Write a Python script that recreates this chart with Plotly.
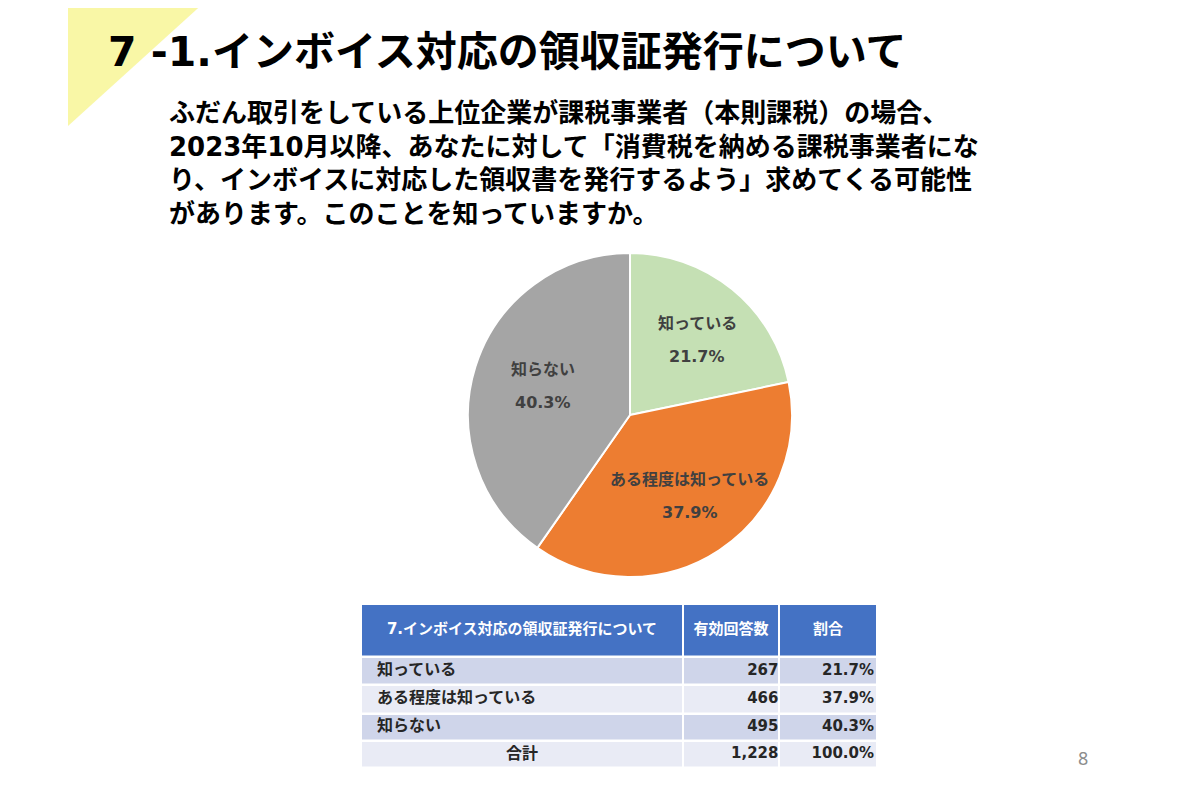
import math
import plotly.graph_objects as go

# ---- data ----
categories = ["知っている", "ある程度は知っている", "知らない"]
counts = [267, 466, 495]
pct_labels = ["21.7%", "37.9%", "40.3%"]
total_label = "合計"
total_count = "1,228"
total_pct = "100.0%"
table_header = ["7.インボイス対応の領収証発行について", "有効回答数", "割合"]
slice_colors = ["#C5E0B4", "#ED7D31", "#A5A5A5"]

title_text = "7 -1.インボイス対応の領収証発行について"
question_lines = [
    "ふだん取引をしている上位企業が課税事業者（本則課税）の場合、",
    "2023年10月以降、あなたに対して「消費税を納める課税事業者にな",
    "り、インボイスに対応した領収書を発行するよう」求めてくる可能性",
    "があります。このことを知っていますか。",
]
page_number = "8"

# ---- layout constants (pixels of the 1200x798 page) ----
OX, OY = 8, 8            # page body margin of the html page
FW, FH = 1200 - OX, 798 - OY
FONT = "DejaVu Sans, Noto Sans CJK JP"


def px(x):
    return (x - OX) / FW


def py(y):
    return 1 - (y - OY) / FH


fig = go.Figure()

# ---- pie ----
PCX, PCY, PR = 630, 415, 162
fig.add_trace(go.Pie(
    labels=categories,
    values=counts,
    sort=False,
    direction="clockwise",
    rotation=0,
    marker=dict(colors=slice_colors, line=dict(color="white", width=2)),
    textinfo="none",
    domain=dict(x=[px(PCX - PR), px(PCX + PR)], y=[py(PCY + PR), py(PCY - PR)]),
    showlegend=False,
    hoverinfo="skip",
))

# slice labels at the middle angle of each slice
total = sum(counts)
cum = 0
for cat, val, pl in zip(categories, counts, pct_labels):
    mid = (cum + val / 2) / total * 2 * math.pi
    cum += val
    lx = PCX + 0.60 * PR * math.sin(mid) + 6
    ly = PCY - 0.60 * PR * math.cos(mid)
    for txt, dy in ((cat, -16.5), (pl, 16.5)):
        fig.add_annotation(text=f"<b>{txt}</b>", x=px(lx), y=py(ly + dy), xref="paper", yref="paper",
                           xanchor="center", yanchor="middle", showarrow=False,
                           font=dict(family=FONT, size=16, color="#404040"))

# ---- table (cells drawn as a heatmap grid) ----
col_widths = [322, 96, 98]
row_heights = [53, 28, 28.5, 27.5, 27]
x_edges = [0]
for w in col_widths:
    x_edges.append(x_edges[-1] + w)
y_edges = [0]
for h in row_heights:
    y_edges.append(y_edges[-1] + h)
row_kind = [0, 1, 2, 1, 2]      # 0 header, 1 darker band, 2 lighter band
z = [[k] * len(col_widths) for k in row_kind]

TX0, TX1, TY0, TY1 = 361, 877, 604, 768
fig.add_trace(go.Heatmap(
    x=x_edges, y=y_edges, z=z,
    zmin=0, zmax=2,
    colorscale=[[0, "#4472C4"], [0.5, "#CFD5EA"], [1, "#E9EBF5"]],
    showscale=False, xgap=2, ygap=2.5, hoverinfo="skip",
    xaxis="x", yaxis="y",
))

xc = [(x_edges[i] + x_edges[i + 1]) / 2 for i in range(len(col_widths))]
yc = [(y_edges[i] + y_edges[i + 1]) / 2 for i in range(len(row_heights))]

fig.add_trace(go.Scatter(
    x=xc, y=[yc[0]] * 3, mode="text", text=[f"<b>{h}</b>" for h in table_header],
    textposition="middle center", textfont=dict(family=FONT, size=15, color="white"),
    showlegend=False, hoverinfo="skip",
))
fig.add_trace(go.Scatter(
    x=[x_edges[0] + 16] * 3, y=yc[1:4], mode="text", text=[f"<b>{c}</b>" for c in categories],
    textposition="middle right", textfont=dict(family=FONT, size=16, color="#262626"),
    showlegend=False, hoverinfo="skip",
))
fig.add_trace(go.Scatter(
    x=[xc[0]], y=[yc[4]], mode="text", text=[f"<b>{total_label}</b>"],
    textposition="middle center", textfont=dict(family=FONT, size=16, color="#262626"),
    showlegend=False, hoverinfo="skip",
))
fig.add_trace(go.Scatter(
    x=[x_edges[2] - 0.5] * 4, y=yc[1:], mode="text",
    text=[f"<b>{v}</b>" for v in [str(c) for c in counts] + [total_count]],
    textposition="middle left", textfont=dict(family=FONT, size=15, color="#262626"),
    showlegend=False, hoverinfo="skip",
))
fig.add_trace(go.Scatter(
    x=[x_edges[3] - 3] * 4, y=yc[1:], mode="text",
    text=[f"<b>{v}</b>" for v in pct_labels + [total_pct]],
    textposition="middle left", textfont=dict(family=FONT, size=15, color="#262626"),
    showlegend=False, hoverinfo="skip",
))

# ---- decorations and texts ----
fig.add_shape(type="path", xref="paper", yref="paper",
              path=f"M {px(68)},{py(0)} L {px(207)},{py(0)} L {px(68)},{py(126)} Z",
              fillcolor="#F9F7A6", line=dict(width=0), layer="below")

fig.add_annotation(text=f"<b>{title_text}</b>", x=px(106), y=py(52), xref="paper", yref="paper",
                   xanchor="left", yanchor="middle", showarrow=False,
                   font=dict(family=FONT, size=41, color="#000000"))

for i, line in enumerate(question_lines):
    fig.add_annotation(text=f"<b>{line}</b>", x=px(167), y=py(113 + i * 33.7), xref="paper", yref="paper",
                       xanchor="left", yanchor="middle", showarrow=False,
                       font=dict(family=FONT, size=26, color="#000000"))

fig.add_annotation(text=page_number, x=px(1083), y=py(758), xref="paper", yref="paper",
                   xanchor="center", yanchor="middle", showarrow=False,
                   font=dict(family="Noto Sans", size=18, color="#8C8C8C"))

fig.update_layout(
    width=FW, height=FH,
    margin=dict(l=0, r=0, t=0, b=0),
    paper_bgcolor="white",
    plot_bgcolor="white",
    xaxis=dict(domain=[px(TX0), px(TX1)], range=[x_edges[0], x_edges[-1]], visible=False, fixedrange=True),
    yaxis=dict(domain=[py(TY1), py(TY0)], range=[y_edges[-1], y_edges[0]], visible=False, fixedrange=True),
)

fig.write_html("out.html")
